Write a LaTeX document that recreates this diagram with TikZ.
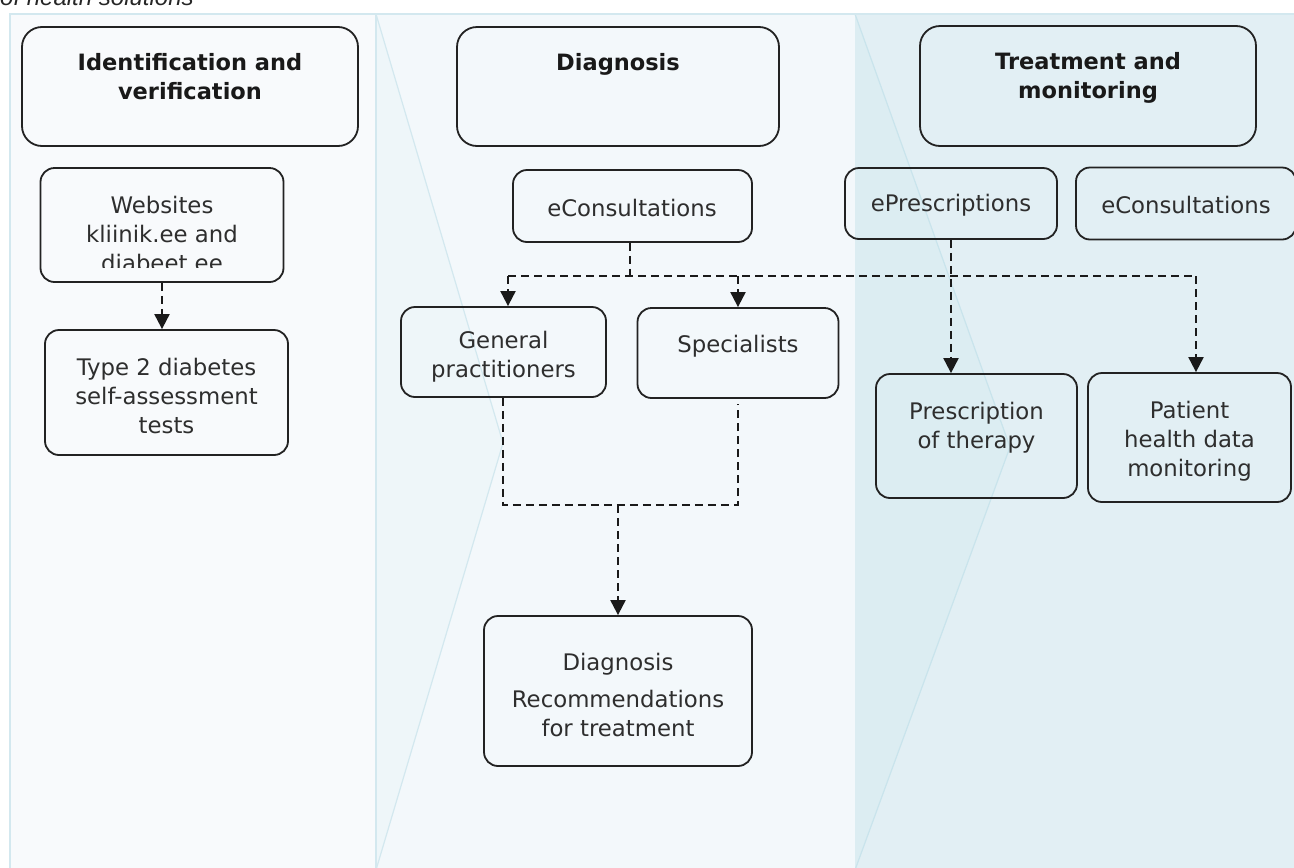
\documentclass[tikz,border=0pt]{standalone}
\usepackage{fontspec}
\setmainfont{DejaVu Sans}
\newfontfamily\titlefont{Liberation Sans}
\usetikzlibrary{arrows.meta,calc}
\definecolor{colA}{HTML}{F8FAFC}
\definecolor{colB}{HTML}{F3F8FB}
\definecolor{colBd}{HTML}{EEF6F9}
\definecolor{colC}{HTML}{E2EFF4}
\definecolor{colCd}{HTML}{DCEDF2}
\definecolor{edgec}{HTML}{D3E8EF}
\definecolor{diagc}{HTML}{C9E4EC}
\definecolor{boxc}{HTML}{222222}
\definecolor{txtc}{HTML}{2E2E2E}
\definecolor{linec}{HTML}{1A1A1A}
\begin{document}
\begin{tikzpicture}[x=1pt,y=-1pt,
  box/.style={draw=boxc, line width=1.8pt, rounded corners=14pt, inner sep=0pt},
  hbox/.style={box, rounded corners=20pt},
  txt/.style={align=center, font=\fontsize{22.8}{29}\selectfont, text=txtc, inner sep=0pt},
  htxt/.style={align=center, font=\fontsize{22.5}{29}\selectfont\bfseries, text=black!90, inner sep=0pt},
  conn/.style={draw=linec, line width=2pt, dash pattern=on 8pt off 5pt},
  arr/.style={conn, -{Triangle[length=15pt,width=15pt]}}]
\useasboundingbox (0,0) rectangle (1294,868);
\clip (0,0) rectangle (1294,868);

% title (cut off at top, as in the source)
\node[anchor=base west, inner sep=0pt, font=\titlefont\fontsize{24}{28}\selectfont\itshape, text=black!85] (title) at (0,5) {of health solutions};

% panels
\fill[colA] (10,14) rectangle (376,870);
\fill[colB] (376,14) rectangle (855,870);
\fill[colC] (855,14) rectangle (1296,870);
\filldraw[fill=colBd, draw=edgec, line width=1.2pt] (376,14) -- (503,443) -- (376,870);
\filldraw[fill=colCd, draw=diagc, line width=1.2pt] (855,14) -- (1010,447) -- (855,870);
\draw[edgec, line width=2pt] (10,870) -- (10,14) -- (1296,14);
\draw[edgec, line width=1.5pt] (376,14) -- (376,870);

% header boxes
\node[hbox, minimum width=336pt, minimum height=119pt] (ident) at (190,86.5) {};
\node[htxt] (identT) at (190,77) {Identification and\\verification};
\node[hbox, minimum width=322pt, minimum height=119pt] (diagH) at (618,86.5) {};
\node[htxt] (diagHT) at (618,64) {Diagnosis};
\node[hbox, minimum width=336pt, minimum height=120pt] (treatH) at (1088,86) {};
\node[htxt] (treatHT) at (1088,77.5) {Treatment and\\monitoring};

% column 1
\node[box, minimum width=243pt, minimum height=114pt] (web) at (162,225) {};
\begin{scope}
  \clip (40,168) rectangle (283,267);
  \node[txt] (webT) at (162,234) {Websites\\kliinik.ee and\\diabeet.ee};
\end{scope}
\node[box, minimum width=243pt, minimum height=125pt] (type2) at (166.5,392.5) {};
\node[txt] (type2T) at (166.5,395.5) {Type 2 diabetes\\self-assessment\\tests};

% column 2
\node[box, minimum width=239pt, minimum height=72pt] (econsD) at (632.5,206) {};
\node[txt] (econsDT) at (632,208) {eConsultations};
\node[box, minimum width=205pt, minimum height=90pt] (gp) at (503.5,352) {};
\node[txt] (gpT) at (503.5,357) {General\\practitioners};
\node[box, minimum width=201pt, minimum height=90pt] (spec) at (738,353) {};
\node[txt] (specT) at (738,346) {Specialists};
\node[box, minimum width=268pt, minimum height=150pt] (diagrec) at (618,691) {};
\node[txt] (diagrecT) at (618,695) {Diagnosis\\[8pt]Recommendations\\for treatment};

% column 3
\node[box, minimum width=212pt, minimum height=71pt] (epresc) at (951,203.5) {};
\node[txt] (eprescT) at (951,205) {ePrescriptions};
\node[box, minimum width=220pt, minimum height=72pt] (econsT) at (1186,203.5) {};
\node[txt] (econsTT) at (1186,205) {eConsultations};
\node[box, minimum width=201pt, minimum height=124pt] (presc) at (976.5,436) {};
\node[txt] (prescT) at (976.5,428) {Prescription\\of therapy};
\node[box, minimum width=203pt, minimum height=129pt] (patient) at (1189.5,437.5) {};
\node[txt] (patientT) at (1189.5,441) {Patient\\health data\\monitoring};

% connectors
\coordinate (busL) at (508,276);
\coordinate (busR) at (1196,276);
\coordinate (merge) at (618,505);
\draw[arr] (web.south) -- (web.south |- type2.north);
\draw[conn] ($(econsD.south)+(-2.5,0)$) -- ($(econsD.south |- busL)+(-2.5,0)$);
\draw[conn] (busL) -- (busR);
\draw[arr] (busL) -- (busL |- gp.north);
\draw[arr] (spec.north |- busL) -- (spec.north);
\draw[arr] (busR) -- (busR |- patient.north);
\draw[arr] (epresc.south) -- (epresc.south |- presc.north);
\draw[conn] ($(gp.south)+(-0.5,0)$) -- ($(gp.south |- merge)+(-0.5,0)$) -- (spec.south |- merge) -- ($(spec.south)+(0,5)$);
\draw[arr] (merge) -- (diagrec.north);
\end{tikzpicture}
\end{document}
